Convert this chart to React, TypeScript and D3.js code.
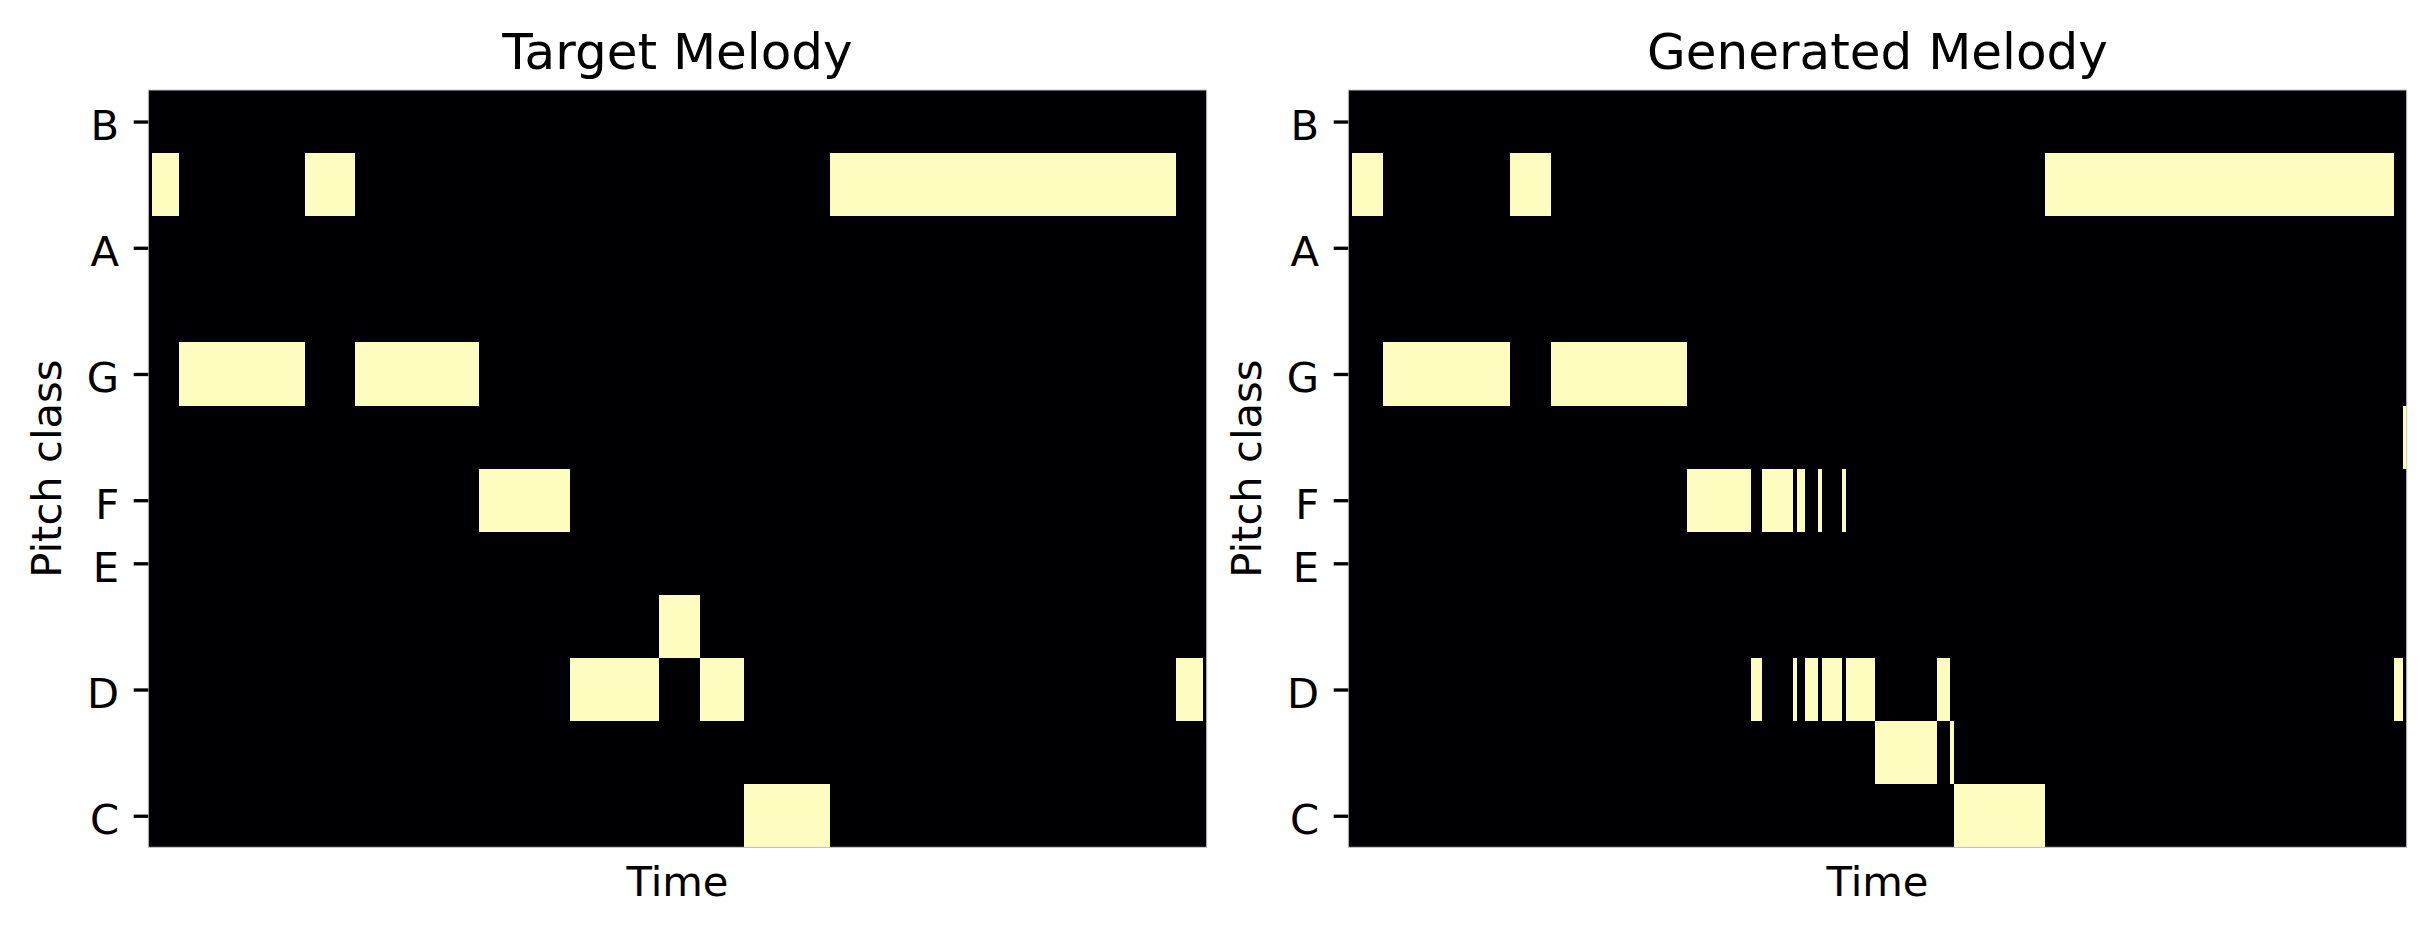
import React, { useEffect, useRef } from 'react';
import * as d3 from 'd3';

const FRAMES = 512;
const pitchTicks = [0, 2, 4, 5, 7, 9, 11];
const pitchLabels = ['C', 'D', 'E', 'F', 'G', 'A', 'B'];

// [pitch class, start frame, end frame]
const targetNotes: [number, number, number][] = [
  [10, 2, 15],
  [7, 15, 76],
  [10, 76, 100],
  [7, 100, 160],
  [5, 160, 204],
  [2, 204, 247],
  [3, 247, 267],
  [2, 267, 288],
  [0, 288, 330],
  [10, 330, 497],
  [2, 497, 510],
];

const generatedNotes: [number, number, number][] = [
  [10, 2, 17],
  [7, 17, 78],
  [10, 78, 98],
  [7, 98, 164],
  [5, 164, 195],
  [2, 195, 200],
  [5, 200, 215],
  [2, 215, 217],
  [5, 217, 221],
  [2, 221, 227],
  [5, 227, 229],
  [2, 229, 239],
  [5, 239, 241],
  [2, 241, 255],
  [1, 255, 285],
  [2, 285, 291],
  [1, 291, 293],
  [0, 293, 337],
  [10, 337, 506],
  [2, 506, 510],
  [6, 510, 512],
];

const titles = ['Target Melody', 'Generated Melody'];
const melodies = [targetNotes, generatedNotes];

const App: React.FC = () => {
  const svgRef = useRef<SVGSVGElement>(null);
  const width = 2434;
  const height = 934;

  useEffect(() => {
    if (!svgRef.current) return;
    const svg = d3.select(svgRef.current);
    svg.selectAll('*').remove();

    const font = 'DejaVu Sans, sans-serif';
    const top = 90;
    const plotW = 1058.4;
    const plotH = 757.3;
    const lefts = [148.3, 1348.3];

    svg.append('rect')
      .attr('width', width)
      .attr('height', height)
      .attr('fill', 'white');

    melodies.forEach((notes, k) => {
      const g = svg.append('g')
        .attr('transform', `translate(${lefts[k]},${top})`);

      const xScale = d3.scaleLinear().domain([0, FRAMES]).range([0, plotW]);
      const yScale = d3.scaleLinear().domain([-0.5, 11.5]).range([plotH, 0]);

      // background of the piano roll
      g.append('rect')
        .attr('width', plotW)
        .attr('height', plotH)
        .attr('fill', '#000004');

      // notes
      g.selectAll('rect.note')
        .data(notes)
        .enter()
        .append('rect')
        .attr('class', 'note')
        .attr('x', d => xScale(d[1]))
        .attr('width', d => xScale(d[2]) - xScale(d[1]))
        .attr('y', d => yScale(d[0] + 0.5))
        .attr('height', d => yScale(d[0] - 0.5) - yScale(d[0] + 0.5))
        .attr('fill', '#fcfdbf')
        .attr('shape-rendering', 'crispEdges');

      // thin frame
      g.append('rect')
        .attr('width', plotW)
        .attr('height', plotH)
        .attr('fill', 'none')
        .attr('stroke', '#c8c8c8')
        .attr('stroke-width', 1);

      // y axis
      g.append('g')
        .call(
          d3.axisLeft(yScale)
            .tickValues(pitchTicks)
            .tickFormat((d, i) => pitchLabels[i])
            .tickSize(14.6)
            .tickPadding(14.6)
        )
        .call(a => a.select('.domain').remove())
        .call(a => a.selectAll('.tick line')
          .attr('stroke', '#000')
          .attr('stroke-width', 3.33))
        .call(a => a.selectAll('.tick text')
          .attr('font-family', font)
          .attr('font-size', 41.67)
          .attr('fill', '#000')
          .attr('dy', '0.43em'));

      // title
      g.append('text')
        .attr('x', plotW / 2)
        .attr('y', 69.3 - top)
        .attr('text-anchor', 'middle')
        .attr('font-family', font)
        .attr('font-size', 50)
        .attr('fill', '#000')
        .text(titles[k]);

      // axis labels
      g.append('text')
        .attr('transform', `translate(${60.8 - 148.3},${plotH / 2}) rotate(-90)`)
        .attr('text-anchor', 'middle')
        .attr('font-family', font)
        .attr('font-size', 41.67)
        .attr('fill', '#000')
        .text('Pitch class');

      g.append('text')
        .attr('x', plotW / 2)
        .attr('y', 896 - top)
        .attr('text-anchor', 'middle')
        .attr('font-family', font)
        .attr('font-size', 41.67)
        .attr('fill', '#000')
        .text('Time');
    });
  }, []);

  return (
    <svg
      ref={svgRef}
      width={width}
      height={height}
      style={{ position: 'absolute', left: 0, top: 0, display: 'block' }}
    />
  );
};

export default App;
